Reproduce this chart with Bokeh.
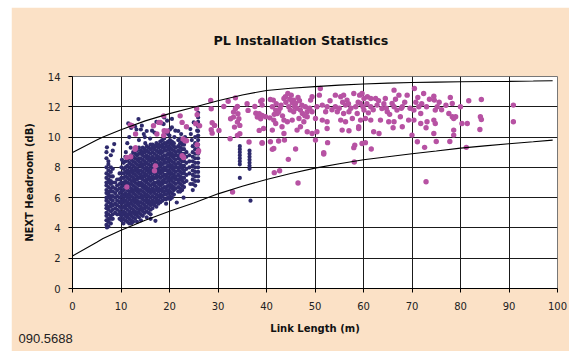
from bokeh.plotting import figure
from bokeh.models import ColumnDataSource, FixedTicker, Title
from bokeh.embed import file_html
from bokeh.resources import INLINE

# ---------------- data ----------------
x_ticks = [0, 10, 20, 30, 40, 50, 60, 70, 80, 90, 100]
y_ticks = [0, 2, 4, 6, 8, 10, 12, 14]

curve_x = [0, 5, 6.3, 10, 15, 20, 25, 30, 35, 40, 45, 50, 55, 60, 65, 70, 75, 80, 85, 90, 95, 99]
upper_y = [8.98, 9.8, 10.0, 10.48, 11.07, 11.55, 11.97, 12.4, 12.78, 13.08, 13.22, 13.33, 13.43,
           13.5, 13.56, 13.6, 13.63, 13.65, 13.67, 13.68, 13.7, 13.72]
lower_y = [2.15, 3.05, 3.3, 3.85, 4.5, 5.1, 5.65, 6.25, 6.75, 7.2, 7.6, 7.95, 8.24, 8.5, 8.7,
           8.9, 9.08, 9.27, 9.42, 9.56, 9.69, 9.8]

# navy series: measured columns of points (link length, list of headroom values)
navy_columns = [
    (7.0, [4.2, 4.5, 4.8, 5.0, 5.3, 5.5, 5.8, 6.0, 6.3, 6.5, 6.8, 7.0, 7.3, 7.6, 8.0, 8.6, 9.0]),
    (7.4, [4.1, 4.4, 4.6, 4.9, 5.2, 5.4, 5.7, 6.0, 6.2, 6.4, 6.7, 7.0, 7.2, 7.5, 7.8, 8.2, 8.4]),
    (7.9, [4.3, 4.6, 4.8, 5.1, 5.4, 5.6, 5.9, 6.1, 6.4, 6.6, 6.9, 7.1, 7.4, 7.7, 8.0, 8.8]),
    (8.3, [4.6, 4.9, 5.2, 5.5, 5.8, 6.1, 6.4, 6.7, 7.0, 7.4, 7.9, 9.1]),
    (8.8, [5.0, 5.3, 5.6, 6.0, 6.3, 6.6, 7.0]),
    (9.2, [4.9, 5.2, 5.5, 5.8, 6.1, 6.5, 6.8, 7.2]),
    (9.7, [4.6, 4.9, 5.1, 5.4, 5.7, 6.0, 6.3, 6.6, 6.9, 7.2, 7.6]),
    (10.1, [4.5, 4.8, 5.0, 5.3, 5.6, 5.8, 6.1, 6.4, 6.7, 7.0, 7.3, 7.6, 8.0]),
    (10.5, [4.3, 4.6, 4.9, 5.1, 5.4, 5.7, 5.9, 6.2, 6.5, 6.8, 7.0, 7.3, 7.6, 7.9, 8.3]),
    (10.9, [4.5, 4.8, 5.0, 5.3, 5.5, 5.8, 6.1, 6.3, 6.6, 6.9, 7.1, 7.4, 7.7, 8.0, 8.4, 8.7]),
    (11.3, [4.4, 4.7, 4.9, 5.2, 5.5, 5.7, 6.0, 6.2, 6.5, 6.8, 7.0, 7.3, 7.6, 7.8, 8.1, 8.5, 9.6]),
    (11.7, [4.3, 4.6, 4.9, 5.1, 5.4, 5.6, 5.9, 6.2, 6.4, 6.7, 6.9, 7.2, 7.5, 7.7, 8.0, 8.3, 8.6, 10.0]),
    (12.1, [4.3, 4.5, 4.8, 5.0, 5.3, 5.6, 5.8, 6.1, 6.4, 6.6, 6.9, 7.1, 7.4, 7.7, 7.9, 8.2, 8.5, 8.8, 10.6]),
    (12.5, [4.4, 4.7, 5.0, 5.2, 5.5, 5.8, 6.0, 6.3, 6.5, 6.8, 7.1, 7.3, 7.6, 7.8, 8.1, 8.4, 8.7, 9.0]),
    (12.9, [4.6, 4.9, 5.1, 5.4, 5.7, 5.9, 6.2, 6.5, 6.7, 7.0, 7.2, 7.5, 7.8, 8.0, 8.3, 8.6, 8.9, 10.7]),
    (13.3, [4.4, 4.8, 5.0, 5.3, 5.6, 5.8, 6.1, 6.4, 6.6, 6.9, 7.2, 7.4, 7.7, 7.9, 8.2, 8.5, 8.8, 9.1]),
    (13.7, [4.7, 5.0, 5.2, 5.5, 5.7, 6.0, 6.3, 6.5, 6.8, 7.0, 7.3, 7.6, 7.8, 8.1, 8.4, 8.6, 8.9, 9.3, 9.8]),
    (14.1, [4.5, 4.9, 5.2, 5.4, 5.7, 6.0, 6.2, 6.5, 6.8, 7.0, 7.3, 7.5, 7.8, 8.1, 8.3, 8.6, 8.9, 9.1, 10.5]),
    (14.5, [4.8, 5.1, 5.3, 5.6, 5.9, 6.1, 6.4, 6.7, 6.9, 7.2, 7.4, 7.7, 8.0, 8.2, 8.5, 8.8, 9.0, 9.3]),
    (14.9, [5.0, 5.3, 5.5, 5.8, 6.1, 6.3, 6.6, 6.8, 7.1, 7.4, 7.6, 7.9, 8.2, 8.4, 8.7, 9.0, 9.2, 10.0]),
    (15.3, [4.7, 5.1, 5.4, 5.7, 5.9, 6.2, 6.5, 6.7, 7.0, 7.2, 7.5, 7.8, 8.0, 8.3, 8.6, 8.8, 9.1, 9.4, 10.4]),
    (15.7, [5.0, 5.3, 5.6, 5.8, 6.1, 6.4, 6.6, 6.9, 7.2, 7.4, 7.7, 7.9, 8.2, 8.5, 8.7, 9.0, 9.3]),
    (16.1, [4.6, 4.9, 5.2, 5.5, 5.7, 6.0, 6.3, 6.5, 6.8, 7.1, 7.3, 7.6, 7.8, 8.1, 8.4, 8.6, 8.9, 9.2, 9.5]),
    (16.5, [5.3, 5.6, 5.8, 6.1, 6.4, 6.6, 6.9, 7.2, 7.4, 7.7, 7.9, 8.2, 8.5, 8.7, 9.0, 9.3, 9.5]),
    (16.9, [5.5, 5.7, 6.0, 6.3, 6.5, 6.8, 7.0, 7.3, 7.6, 7.8, 8.1, 8.4, 8.6, 8.9, 9.2, 9.4, 10.3]),
    (17.3, [5.4, 5.7, 5.9, 6.2, 6.5, 6.7, 7.0, 7.3, 7.5, 7.8, 8.0, 8.3, 8.6, 8.8, 9.1, 9.4, 9.6, 11.0]),
    (17.7, [5.6, 5.8, 6.1, 6.4, 6.6, 6.9, 7.1, 7.4, 7.7, 7.9, 8.2, 8.5, 8.7, 9.0, 9.3, 9.5]),
    (18.1, [5.7, 6.0, 6.2, 6.5, 6.8, 7.0, 7.3, 7.6, 7.8, 8.1, 8.3, 8.6, 8.9, 9.1, 9.4, 9.7]),
    (18.5, [5.8, 6.1, 6.4, 6.6, 6.9, 7.1, 7.4, 7.7, 7.9, 8.2, 8.5, 8.7, 9.0, 9.3, 9.5, 9.8, 10.9]),
    (18.9, [5.9, 6.2, 6.4, 6.7, 7.0, 7.2, 7.5, 7.8, 8.0, 8.3, 8.5, 8.8, 9.1, 9.3, 9.6, 9.9, 11.3]),
    (19.3, [5.6, 5.9, 6.2, 6.5, 6.7, 7.0, 7.3, 7.5, 7.8, 8.0, 8.3, 8.6, 8.8, 9.1, 9.4, 9.6]),
    (19.7, [6.0, 6.3, 6.5, 6.8, 7.1, 7.3, 7.6, 7.8, 8.1, 8.4, 8.6, 8.9, 9.2, 9.4, 9.7, 10.2]),
    (20.1, [5.9, 6.1, 6.4, 6.7, 6.9, 7.2, 7.5, 7.7, 8.0, 8.2, 8.5, 8.8, 9.0, 9.3, 9.6, 9.8, 10.5]),
    (20.5, [6.0, 6.3, 6.6, 6.8, 7.1, 7.3, 7.6, 7.9, 8.1, 8.4, 8.7, 8.9, 9.2, 9.5, 9.7]),
    (20.9, [6.2, 6.5, 6.7, 7.0, 7.3, 7.5, 7.8, 8.0, 8.3, 8.6, 8.8, 9.1, 9.4, 9.6]),
    (21.3, [6.6, 6.9, 7.2, 7.4, 7.7, 8.0, 8.2, 8.5, 8.8, 9.0, 9.3]),
    (21.8, [6.4, 6.7, 7.0, 7.2, 7.5, 7.8, 8.0, 8.3, 8.6, 8.8, 9.1, 9.4, 9.8, 10.4]),
    (22.2, [6.4, 6.6, 6.9, 7.2, 7.4, 7.7, 8.0, 8.2, 8.5, 8.8, 9.0, 9.3, 9.6, 9.9]),
    (22.6, [6.5, 6.8, 7.1, 7.3, 7.6, 7.9, 8.1, 8.4, 8.7, 8.9, 9.2, 9.5, 9.7]),
    (23.0, [6.7, 7.0, 7.3, 7.6, 7.8, 8.1, 8.4, 8.6, 8.9, 9.2, 9.5]),
    (23.5, [7.1, 7.5, 7.9, 8.3, 8.7, 9.0]),
    (24.1, [7.6, 8.0, 8.4, 8.8]),
    (24.8, [6.5, 6.9, 7.2, 7.5, 7.8, 8.1, 8.4, 8.7, 9.0, 9.4]),
    (25.3, [6.8, 7.1, 7.4, 7.7, 8.0, 8.3, 8.6, 8.9, 9.2, 9.6, 10.0]),
    (25.9, [7.1, 7.4, 7.7, 8.0, 8.3, 8.6, 8.9, 9.2, 9.5, 9.8, 10.1, 10.4, 10.7, 11.0, 11.3, 11.6]),
    (34.5, [7.3, 8.2, 8.4, 8.6, 8.8, 9.0, 9.2, 9.4]),
    (36.5, [7.9, 8.1, 8.3, 8.5, 8.7, 8.9, 9.1]),
]
navy_extra_x = [8.6, 7.1, 13.2, 14.3, 14.7, 16.4, 18.8, 19.5, 20.5, 21.2, 24.3, 25.0, 25.7, 20.5,
                13.6, 11.5, 17.1, 21.5, 22.9, 24.3, 7.1, 36.7,
                21.0, 22.4, 23.2, 24.6, 24.4, 20.0, 19.0, 16.0, 15.0, 12.0, 11.0, 10.2]
navy_extra_y = [9.54, 9.32, 10.5, 10.75, 10.2, 10.42, 10.86, 11.08, 11.2, 10.42, 10.53, 10.97, 10.42,
                10.64, 11.19, 10.9, 4.47, 5.68, 6.0, 6.9, 4.03, 5.8,
                10.0, 10.2, 10.0, 9.8, 10.2, 10.1, 10.3, 9.9, 9.6, 9.3, 9.0, 8.5]

mag_x = [
    51.1, 50.9, 49.4, 49.1, 44.4, 45.1, 43.9, 43.6, 45.6, 45.3, 46.0, 46.5, 41.4, 40.8, 39.1, 54.2,
    55.3, 55.9, 56.6, 58.0, 59.2, 59.7, 60.1, 60.8, 61.5, 62.5, 64.5, 66.3, 67.3, 69.0, 70.5, 71.2,
    72.4, 74.5, 74.6, 77.9, 78.3, 81.7, 84.3, 90.9, 90.9,
    39.1, 41.2, 41.9, 42.2, 42.5, 43.0, 44.6, 44.9, 45.6, 47.0, 47.4, 48.4, 49.4, 50.4, 51.5, 52.2,
    52.5, 54.2, 54.6, 56.3, 55.9, 57.0, 58.4, 58.7, 59.4, 60.1, 61.5, 62.8, 63.8, 64.9, 65.9, 66.3,
    66.9, 68.0, 70.4, 71.4, 71.8, 74.8, 75.2, 77.6, 78.3, 79.0, 80.0, 80.3,
    39.8, 41.5, 41.9, 43.6, 44.3, 45.3, 46.7, 47.7, 48.4, 50.1, 51.5, 52.5, 55.3, 56.3, 57.7, 59.4,
    60.4, 61.5, 63.5, 65.2, 66.3, 67.6, 69.3, 70.4, 71.8, 73.1, 74.5, 74.8, 78.6, 81.4, 84.1, 84.3,
    39.4, 41.2, 43.2, 43.6, 46.3, 47.0, 48.4, 49.4, 50.4, 52.5, 55.6, 57.0, 59.0, 59.0, 62.1, 63.2,
    66.1, 68.0, 70.0, 72.9, 74.5, 78.6, 78.6, 84.0,
    39.1, 40.8, 41.5, 41.2, 42.5, 43.7, 46.0, 50.1, 51.8, 51.8, 52.6, 58.2, 58.0, 59.7, 60.4, 61.6,
    71.1, 72.6, 75.0, 77.8, 81.2,
    44.5, 58.1, 41.6, 42.7, 46.5, 72.9,
    42.0, 42.8, 41.6, 43.3, 44.0, 44.8, 45.8, 46.3, 46.8, 47.3, 48.0, 48.9, 47.9, 53.1, 53.5, 55.0,
    55.7, 56.9, 57.4, 58.9, 59.9, 60.7, 61.0, 62.0, 63.1, 64.2, 64.7, 65.4, 66.6, 67.8, 68.5, 69.6,
    70.8, 72.0, 73.0, 73.6, 75.6, 76.1, 77.0,
    25.6, 25.7, 25.4, 25.9, 28.5, 28.6, 28.8, 29.3, 28.6, 28.8, 30.2, 31.2, 32.1, 33.6, 34.0, 33.6,
    34.1, 33.2, 32.6, 34.0, 34.5, 34.5, 34.0, 32.5, 36.4, 36.0, 36.2, 37.6, 37.8, 38.1, 38.8, 38.5,
    39.1, 38.8, 40.7, 33.0, 33.2, 34.3, 33.4, 38.5, 39.1,
    12.3, 13.0, 16.7, 17.8, 18.9, 18.8, 22.2, 22.6, 23.5, 25.7, 26.0, 26.2, 11.2, 12.0, 22.6, 22.8,
    23.5, 17.1, 16.9, 11.2, 13.0, 11.9, 18.1, 18.8, 19.5, 23.2, 22.9, 12.9, 17.4,
]
mag_y = [
    13.21, 12.77, 12.66, 12.44, 12.88, 12.77, 12.66, 12.55, 12.44, 12.26, 12.22, 12.62, 12.44, 12.48,
    12.44, 12.77, 12.66, 12.77, 12.44, 12.88, 12.77, 12.88, 12.55, 12.66, 12.55, 12.55, 12.55, 13.1,
    12.77, 12.77, 13.21, 12.62, 12.88, 12.7, 12.44, 12.62, 12.22, 12.4, 12.48, 12.11, 11.01,
    12.11, 12.0, 11.78, 11.56, 11.67, 12.11, 12.0, 11.78, 11.67, 11.78, 11.56, 11.67, 11.67, 12.0,
    12.11, 11.67, 12.0, 12.0, 11.67, 12.11, 11.56, 11.67, 12.0, 11.56, 12.22, 11.78, 12.0, 12.11,
    11.89, 11.67, 12.22, 12.0, 11.78, 12.0, 11.78, 12.0, 11.56, 11.78, 12.0, 11.56, 11.34, 11.34,
    12.0, 10.9,
    11.34, 11.12, 10.9, 11.12, 11.01, 11.12, 11.23, 11.01, 11.34, 11.23, 11.12, 11.01, 11.12, 11.01,
    11.23, 11.12, 11.23, 11.12, 11.12, 11.01, 11.01, 11.34, 11.12, 11.12, 10.9, 11.01, 11.12, 10.9,
    11.23, 10.9, 11.34, 11.16,
    10.57, 10.46, 10.68, 10.24, 10.46, 10.68, 10.35, 10.24, 10.35, 10.57, 10.46, 10.42, 10.68, 10.57,
    10.35, 10.24, 10.62, 10.68, 10.13, 10.62, 10.24, 10.46, 10.13, 10.5,
    9.63, 9.69, 9.25, 9.19, 9.74, 9.8, 9.21, 9.8, 8.97, 8.88, 9.63, 9.47, 9.3, 9.58, 9.63, 9.21,
    9.69, 9.32, 9.71, 9.71, 9.32,
    8.53, 8.35, 7.65, 7.78, 6.97, 7.05,
    12.2, 11.9, 11.5, 11.4, 12.3, 12.5, 12.0, 11.9, 12.4, 12.1, 12.0, 11.9, 11.4, 12.4, 11.8, 11.9,
    12.3, 12.2, 11.9, 12.3, 12.0, 12.2, 11.6, 11.8, 12.4, 12.2, 11.9, 11.5, 12.5, 11.9, 12.3, 11.9,
    12.3, 12.2, 12.0, 12.5, 12.3, 11.8, 12.1,
    11.87, 11.47, 10.88, 9.01, 12.42, 11.87, 10.95, 10.77, 10.48, 10.26, 10.44, 12.02, 12.37, 12.59,
    12.02, 11.87, 11.54, 11.32, 11.21, 10.99, 10.77, 10.22, 10.11, 9.89, 9.67, 12.2, 11.76, 12.02,
    11.58, 11.32, 11.21, 10.44, 9.6, 12.37, 11.27, 6.37, 11.65, 11.21, 10.66, 11.54, 11.43,
    10.75, 10.2, 10.75, 10.97, 10.42, 10.1, 11.4, 10.97, 10.68, 9.5, 9.1, 10.75, 8.66, 8.7, 8.77,
    9.87, 9.76, 8.1, 7.78, 6.7, 9.3, 10.8, 10.96, 11.4, 10.4, 9.75, 8.65, 9.2, 10.2,
]

# ---------------- build ----------------
navy_x, navy_y = [], []
for cx, ys in navy_columns:
    for yv in ys:
        navy_x.append(cx)
        navy_y.append(yv)
navy_x += navy_extra_x
navy_y += navy_extra_y

PEACH = "#FBE1C6"
NAVY = "#2E2A6C"
MAGENTA = "#B752A3"

p = figure(width=558, height=344, x_range=(0, 100), y_range=(0, 14),
           output_backend="svg", toolbar_location=None,
           min_border_left=61, min_border_right=12, min_border_top=69, min_border_bottom=63)
p.margin = (7, 0, 0, 11)
p.background_fill_color = "white"
p.border_fill_color = PEACH
p.outline_line_color = "#777777"
p.outline_line_width = 1

p.title.text = "PL Installation Statistics"
p.title.align = "left"
p.title.offset = 141
p.title.text_font = "DejaVu Sans"
p.title.text_font_size = "12.7px"
p.title.text_font_style = "bold"
p.title.text_color = "#111111"

# empty spacer between the title and the plot area
p.add_layout(Title(text=" ", text_font_size="20px", standoff=0), "above")

p.add_layout(Title(text="090.5688", align="left", offset=-54, text_font="Liberation Sans",
                   text_font_size="13px", text_font_style="normal", text_color="#222222",
                   standoff=-13), "below")

p.xaxis.ticker = FixedTicker(ticks=x_ticks)
p.yaxis.ticker = FixedTicker(ticks=y_ticks)
for ax in (p.xaxis[0], p.yaxis[0]):
    ax.axis_line_color = "black"
    ax.major_tick_line_color = "black"
    ax.major_tick_out = 4
    ax.major_tick_in = 0
    ax.minor_tick_line_color = None
    ax.major_label_text_font = "DejaVu Sans"
    ax.major_label_text_font_size = "10px"
    ax.major_label_text_color = "#222222"
    ax.axis_label_text_font = "DejaVu Sans"
    ax.axis_label_text_font_size = "10px"
    ax.axis_label_text_font_style = "bold"
    ax.axis_label_text_color = "#111111"
p.xaxis.axis_label = "Link Length (m)"
p.yaxis.axis_label = "NEXT Headroom (dB)"
p.yaxis.major_label_standoff = 8
p.yaxis.axis_label_standoff = 10
p.xaxis.major_label_standoff = 9
p.xaxis.axis_label_standoff = 10

p.xgrid.ticker = FixedTicker(ticks=x_ticks)
p.ygrid.ticker = FixedTicker(ticks=y_ticks)
p.grid.grid_line_color = "#1a1a1a"
p.grid.grid_line_width = 1

nsrc = ColumnDataSource(dict(x=navy_x, y=navy_y))
msrc = ColumnDataSource(dict(x=mag_x, y=mag_y))
p.scatter("x", "y", source=nsrc, size=4.2, color=NAVY, line_width=0)
p.scatter("x", "y", source=msrc, size=5.4, color=MAGENTA, line_width=0)

p.line(curve_x, upper_y, line_color="black", line_width=1.1)
p.line(curve_x, lower_y, line_color="black", line_width=1.1)

open("out.html", "w").write(file_html(p, INLINE))
